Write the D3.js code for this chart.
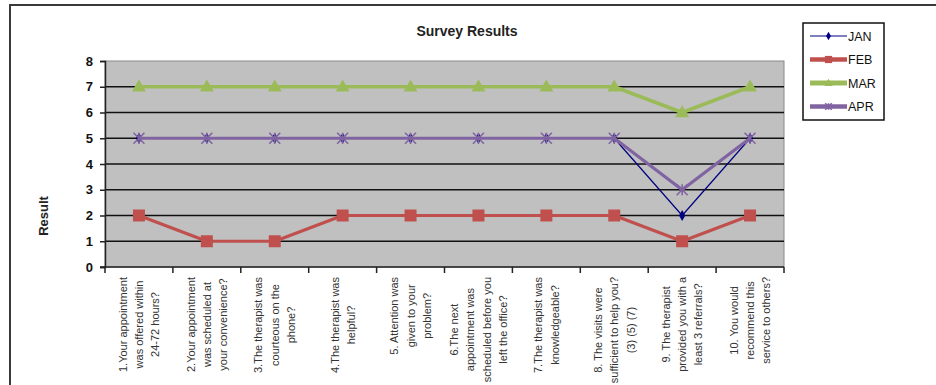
<!DOCTYPE html>
<html>
<head>
<meta charset="utf-8">
<script src="https://cdn.jsdelivr.net/npm/d3@7"></script>
<style>
  body { margin: 0; background: #fff; }
  svg { display: block; font-family: "Liberation Sans", Arial, sans-serif; }
</style>
</head>
<body>
<div class="body"></div>
<script>
// survey questions, one array of wrapped lines per category
const questions = [
  ["1.Your appointment", "was offered within", "24-72 hours?"],
  ["2.Your appointment", "was scheduled at", "your convenience?"],
  ["3.The therapist was", "courteous on the", "phone?"],
  ["4.The therapist was", "helpful?"],
  ["5. Attention was", "given to your", "problem?"],
  ["6.The next", "appointment was", "scheduled before you", "left the office?"],
  ["7.The therapist was", "knowledgeable?"],
  ["8. The visits were", "sufficient to help you?", "(3) (5) (7)"],
  ["9. The therapist", "provided you with a", "least 3 referrals?"],
  ["10. You would", "recommend this", "service to others?"],
];

const months = ["JAN", "FEB", "MAR", "APR"];
const jan = [5, 5, 5, 5, 5, 5, 5, 5, 2, 5];
const feb = [2, 1, 1, 2, 2, 2, 2, 2, 1, 2];
const mar = [7, 7, 7, 7, 7, 7, 7, 7, 6, 7];
const apr = [5, 5, 5, 5, 5, 5, 5, 5, 3, 5];
const yTicks = [0, 1, 2, 3, 4, 5, 6, 7, 8];

const width = 936;
const height = 385;
const plot = { left: 105, right: 784, top: 61, bottom: 267 };

const svg = d3.select(".body").append("svg").attr("width", width).attr("height", height);

// outer chart border (runs off the right and bottom of the picture)
svg.append("rect")
  .attr("x", 10).attr("y", 5)
  .attr("width", 960).attr("height", 420)
  .attr("fill", "none")
  .attr("stroke", "#3a3a3a")
  .attr("stroke-width", 2);

const x = d3.scaleBand()
  .domain(d3.range(questions.length))
  .range([plot.left, plot.right]);

const y = d3.scaleLinear().domain([0, 8]).range([plot.bottom, plot.top]);

// plot area
svg.append("rect")
  .attr("x", plot.left).attr("y", plot.top)
  .attr("width", plot.right - plot.left).attr("height", plot.bottom - plot.top)
  .attr("fill", "#c0c0c0")
  .attr("stroke", "#8a8a8a")
  .attr("stroke-width", 1);

// gridlines
svg.append("g")
  .selectAll("line")
  .data(yTicks.filter(d => d > 0 && d < 8))
  .join("line")
  .attr("x1", plot.left).attr("x2", plot.right)
  .attr("y1", d => y(d)).attr("y2", d => y(d))
  .attr("stroke", "#111")
  .attr("stroke-width", 1.5);

// y axis
const yAxis = svg.append("g")
  .attr("transform", `translate(${plot.left},0)`)
  .call(d3.axisLeft(y).tickValues(yTicks).tickFormat(d3.format("d")).tickSize(5).tickPadding(7));
yAxis.select(".domain").attr("stroke", "#222").attr("stroke-width", 1.5);
yAxis.selectAll(".tick line").attr("stroke", "#222").attr("stroke-width", 1.5);
yAxis.selectAll("text")
  .attr("font-size", 13).attr("font-weight", "bold").attr("fill", "#111")
  .attr("font-family", "Liberation Sans, Arial, sans-serif");

// x axis: ticks between categories
const xAxis = svg.append("g");
xAxis.append("line")
  .attr("x1", plot.left - 5).attr("x2", plot.right)
  .attr("y1", plot.bottom).attr("y2", plot.bottom)
  .attr("stroke", "#222").attr("stroke-width", 1.5);
xAxis.selectAll("line.tk")
  .data(d3.range(questions.length + 1))
  .join("line")
  .attr("class", "tk")
  .attr("x1", d => plot.left + d * x.bandwidth())
  .attr("x2", d => plot.left + d * x.bandwidth())
  .attr("y1", plot.bottom).attr("y2", plot.bottom + 6)
  .attr("stroke", "#222").attr("stroke-width", 1.5);

// category labels, rotated, lines centred on each other
const lineGap = 16.3;
questions.forEach((lines, i) => {
  const cx = x(i) + x.bandwidth() / 2;
  const g = svg.append("g");
  const texts = g.selectAll("text")
    .data(lines)
    .join("text")
    .attr("font-size", 11)
    .attr("fill", "#333")
    .attr("text-anchor", "middle")
    .text(d => d);
  let maxLen = 0;
  texts.each(function () { maxLen = Math.max(maxLen, this.getComputedTextLength()); });
  const yc = plot.bottom + 10 + maxLen / 2;
  texts.attr("transform", (d, j) => {
    const lx = cx + (j - (lines.length - 1) / 2) * lineGap + 4;
    return `translate(${lx},${yc}) rotate(-90)`;
  });
});

// series
const series = [
  { name: months[0], values: jan, color: "#000080", width: 1.2, marker: "diamond" },
  { name: months[1], values: feb, color: "#c0504d", width: 3.2, marker: "square" },
  { name: months[2], values: mar, color: "#9bbb59", width: 3.6, marker: "triangle" },
  { name: months[3], values: apr, color: "#8064a2", width: 3.2, marker: "star" },
];

function drawMarker(sel, kind, color, scale) {
  if (kind === "diamond") {
    sel.append("path").attr("d", d3.symbol(d3.symbolDiamond, 34 * scale)()).attr("fill", color);
  } else if (kind === "square") {
    const s = 12 * scale;
    sel.append("rect").attr("x", -s / 2).attr("y", -s / 2).attr("width", s).attr("height", s).attr("fill", color);
  } else if (kind === "triangle") {
    const w = 14 * scale, h = 12 * scale;
    sel.append("path").attr("d", `M0,${-h * 0.6}L${w / 2},${h * 0.4}L${-w / 2},${h * 0.4}Z`).attr("fill", color);
  } else {
    const r = 5.5 * scale;
    sel.append("path")
      .attr("d", `M${-r},${-r}L${r},${r}M${-r},${r}L${r},${-r}M0,${-r}L0,${r}`)
      .attr("stroke", color).attr("stroke-width", 1.6).attr("fill", "none");
  }
}

const line = d3.line()
  .x((d, i) => x(i) + x.bandwidth() / 2)
  .y(d => y(d));

series.forEach(s => {
  const g = svg.append("g");
  g.append("path")
    .attr("d", line(s.values))
    .attr("fill", "none")
    .attr("stroke", s.color)
    .attr("stroke-width", s.width)
    .attr("stroke-linejoin", "round");
  s.values.forEach((v, i) => {
    const m = g.append("g").attr("transform", `translate(${x(i) + x.bandwidth() / 2},${y(v)})`);
    drawMarker(m, s.marker, s.color, 1);
  });
});

// title
svg.append("text")
  .attr("x", 467).attr("y", 36)
  .attr("text-anchor", "middle")
  .attr("font-size", 14).attr("font-weight", "bold").attr("fill", "#222")
  .text("Survey Results");

// y axis title
svg.append("text")
  .attr("transform", "translate(48,216) rotate(-90)")
  .attr("text-anchor", "middle")
  .attr("font-size", 13).attr("font-weight", "bold").attr("fill", "#222")
  .text("Result");

// legend
const legend = svg.append("g");
legend.append("rect")
  .attr("x", 803).attr("y", 23).attr("width", 81).attr("height", 97)
  .attr("fill", "#fff").attr("stroke", "#111").attr("stroke-width", 1.5);
series.forEach((s, i) => {
  const ly = 36 + i * 23.5;
  legend.append("line")
    .attr("x1", 810).attr("x2", 847).attr("y1", ly).attr("y2", ly)
    .attr("stroke", s.color).attr("stroke-width", s.width > 2 ? s.width + 1.5 : s.width);
  const m = legend.append("g").attr("transform", `translate(828.5,${ly})`);
  drawMarker(m, s.marker, s.color, 0.6);
  legend.append("text")
    .attr("x", 848).attr("y", ly + 4.5)
    .attr("font-size", 12.5).attr("fill", "#111")
    .text(s.name);
});
</script>
</body>
</html>
